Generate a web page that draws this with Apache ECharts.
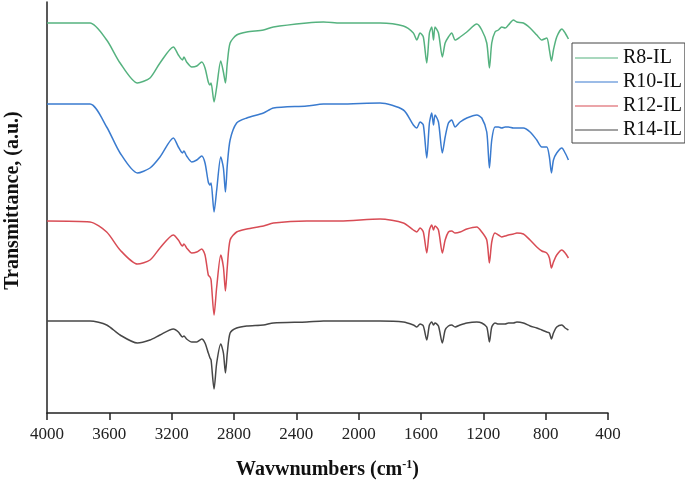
<!DOCTYPE html>
<html>
<head>
<meta charset="utf-8">
<script src="https://cdn.jsdelivr.net/npm/echarts@6/dist/echarts.min.js"></script>
<style>
html,body{margin:0;padding:0;background:#fff;}
#c{width:685px;height:483px;}
</style>
</head>
<body>
<div id="c"></div>
<script>
var wavenumbers = [4000,3724,3617,3531,3420,3339,3275,3189,3157,3131,3121,3104,3071,3039,3007,2986,2965,2954,2947,2928,2911,2885,2868,2855,2843,2825,2783,2718,2611,2547,2333,2226,2119,
1863,1713,1649,1627,1606,1585,1563,1546,1531,1520,1510,1488,1463,1445,1424,1403,1381,1349,1306,1242,1210,1178,1161,1146,1125,1103,1082,1060,1039,1007,985,943,900,857,825,793,776,763,750,729,696,675,654];

var r8 = [390,390,373,350,330,335,350,366,358,353,356,351,346,347,351,345,331,328,330,311,326,352,341,330,350,370,378,381,383,386,390,391,390,
390,387,380,373,380,376,350,380,386,373,386,380,356,370,376,380,373,376,381,389,383,370,345,370,381,383,386,385,388,393,391,390,385,378,373,375,363,352,363,376,384,380,374];

var r10 = [309,309,286,260,240,245,256,275,266,260,262,257,251,253,257,250,231,228,230,201,223,256,245,221,248,273,290,295,300,305,307,309,309,
310,303,288,285,291,288,255,290,300,288,298,291,260,276,290,293,286,291,295,298,295,281,245,273,286,286,285,286,286,285,285,285,281,273,266,266,256,240,253,260,265,260,253];

var r12 = [192,191,181,163,149,153,165,178,173,167,169,165,160,161,164,158,138,136,133,98,126,158,146,122,146,173,181,184,187,190,192,192,192,
194,190,183,181,185,181,160,183,188,183,187,183,160,173,181,182,180,181,184,186,181,173,150,171,180,178,176,177,178,179,180,179,173,166,162,160,155,145,151,158,163,160,155];

var r14 = [92,92,88,78,70,73,78,84,81,76,77,74,71,71,74,70,60,55,53,24,50,69,60,40,60,80,85,87,88,90,91,92,92,
92,91,88,86,89,87,73,88,91,88,90,87,70,83,87,88,86,88,90,91,90,86,71,86,90,89,89,89,90,90,91,90,87,85,83,81,80,74,80,86,88,85,83];

var seriesNames = ['R8-IL','R10-IL','R12-IL','R14-IL'];
var seriesColors = ['#55b27f','#3a7bcf','#d84c55','#474747'];
var seriesValues = [r8, r10, r12, r14];

function pairs(vals){
  return wavenumbers.map(function(w,i){ return [w, vals[i]]; });
}

var chart = echarts.init(document.getElementById('c'), null, {renderer:'canvas'});
var FONT = '"Liberation Serif","Times New Roman",serif';

chart.setOption({
  animation:false,
  backgroundColor:'#fff',
  grid:{left:47, right:77, top:2, bottom:70, containLabel:false, outerBoundsMode:'none'},
  legend:{
    orient:'vertical',
    left:572, top:43,
    padding:[5,3,3,3],
    itemGap:4,
    itemWidth:43, itemHeight:20,
    borderColor:'#444', borderWidth:1,
    icon:'path://M0,9.5 L43,9.5 L43,10.5 L0,10.5 Z',
    textStyle:{fontFamily:FONT, fontSize:20, color:'#111', padding:[0,0,0,0]},
    data:seriesNames
  },
  xAxis:{
    type:'value', min:400, max:4000, interval:400, inverse:true,
    axisLine:{show:true, onZero:false, lineStyle:{color:'#222', width:1.5}},
    axisTick:{show:true, length:7, inside:false, lineStyle:{color:'#222', width:1.5}},
    axisLabel:{fontFamily:FONT, fontSize:17, color:'#222', margin:13, formatter:function(v){return String(v);}},
    splitLine:{show:false},
    name:'{a|Wavwnumbers (cm}{s|-1}{a|)}',
    nameLocation:'middle', nameGap:46,
    nameTextStyle:{
      rich:{
        a:{fontFamily:FONT, fontSize:20, fontWeight:'bold', color:'#111'},
        s:{fontFamily:FONT, fontSize:12, fontWeight:'bold', color:'#111', verticalAlign:'top', padding:[0,0,10,0]}
      }
    }
  },
  yAxis:{
    type:'value', min:0, max:411,
    axisLine:{show:true, lineStyle:{color:'#222', width:1.5}},
    axisTick:{show:false},
    axisLabel:{show:false},
    splitLine:{show:false},
    name:'Transmittance, (a.u.)',
    nameLocation:'middle', nameGap:24,
    nameTextStyle:{fontFamily:FONT, fontSize:20, fontWeight:'bold', color:'#111', padding:[0,0,0,14]}
  },
  series: seriesNames.map(function(n,i){
    return {
      name:n, type:'line', data:pairs(seriesValues[i]),
      showSymbol:false, smooth:0.25,
      itemStyle:{color:seriesColors[i]},
      lineStyle:{color:seriesColors[i], width:1.5}
    };
  })
});
</script>
</body>
</html>
